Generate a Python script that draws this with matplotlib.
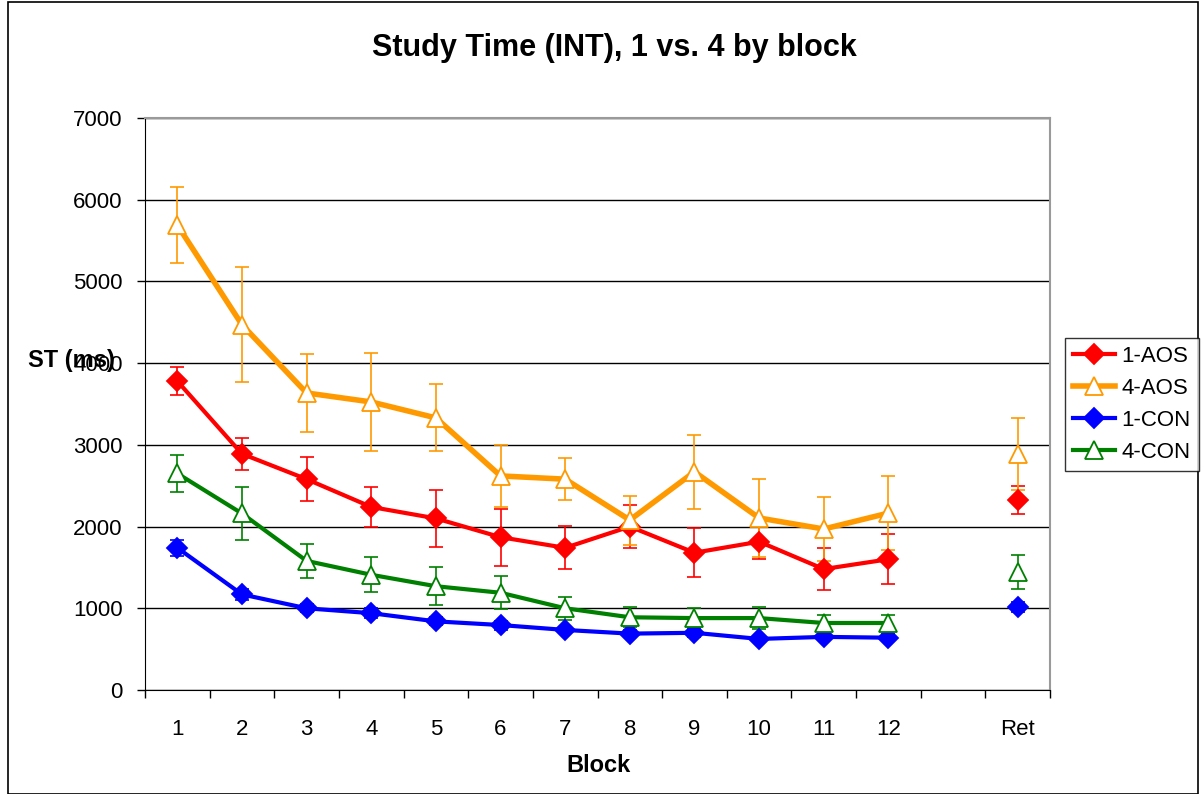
import numpy as np
import matplotlib
matplotlib.use("Agg")
import matplotlib.pyplot as plt
from matplotlib.patches import Rectangle

plt.rcParams['font.family'] = ['Liberation Sans', 'DejaVu Sans']

categories = ['1', '2', '3', '4', '5', '6', '7', '8', '9', '10', '11', '12', '', 'Ret']

aos1 = [3780, 2890, 2580, 2240, 2100, 1870, 1740, 2000, 1680, 1815, 1480, 1600, np.nan, 2325]
aos1_err = [170, 200, 270, 250, 350, 350, 265, 265, 300, 210, 255, 305, np.nan, 170]

aos4 = [5690, 4470, 3635, 3525, 3330, 2620, 2580, 2080, 2670, 2105, 1970, 2165, np.nan, 2890]
aos4_err = [460, 705, 480, 600, 410, 380, 260, 300, 450, 480, 390, 450, np.nan, 440]

con1 = [1740, 1170, 1000, 940, 840, 795, 735, 690, 700, 625, 650, 640, np.nan, 1020]
con1_err = [100, 70, 50, 60, 50, 55, 40, 40, 50, 40, 40, 40, np.nan, 60]

con4 = [2650, 2160, 1580, 1410, 1270, 1190, 1000, 890, 880, 880, 820, 820, np.nan, 1445]
con4_err = [230, 320, 210, 215, 230, 200, 140, 125, 120, 135, 100, 100, np.nan, 210]

series = [
    ('1-AOS', aos1, aos1_err, '#FF0000', 'D', 3, True),
    ('4-AOS', aos4, aos4_err, '#FF9900', '^', 4, False),
    ('1-CON', con1, con1_err, '#0000FF', 'D', 3, True),
    ('4-CON', con4, con4_err, '#008000', '^', 3, False),
]

W, H = 1201, 794
fig = plt.figure(figsize=(W / 100, H / 100), dpi=100)
fig.patch.set_facecolor('white')

# outer chart border
fig.add_artist(Rectangle((8 / W, 0.5 / H), (W - 11) / W, (H - 2) / H,
                         transform=fig.transFigure, fill=False,
                         edgecolor='black', linewidth=1.2))

L, R, T, B = 145, 1050, 118, 690
ax = fig.add_axes([L / W, 1 - B / H, (R - L) / W, (B - T) / H])

x = np.arange(1, len(categories) + 1)

handles = []
for name, vals, errs, color, marker, lw, filled in series:
    v = np.array(vals, dtype=float)
    e = np.array(errs, dtype=float)
    ax.errorbar(x, v, yerr=e, fmt='none', ecolor=color, elinewidth=1.2,
                capsize=5, capthick=1.2, zorder=3)
    ms = 10 if marker == 'D' else 13
    h, = ax.plot(x, v, color=color, linewidth=lw, marker=marker, markersize=ms,
                 markerfacecolor=color if filled else 'white',
                 markeredgecolor=color, markeredgewidth=1.3, zorder=4,
                 label=name)
    handles.append(h)

ax.set_xlim(0.5, len(categories) + 0.5)
ax.set_ylim(0, 7000)
ax.set_yticks(np.arange(0, 7001, 1000))
ax.yaxis.grid(True, color='black', linewidth=1.0, zorder=0)
ax.set_axisbelow(True)

ax.set_xticks(np.arange(0.5, len(categories) + 1, 1.0))
ax.set_xticklabels([])
ax.set_xticks(x, minor=True)
ax.set_xticklabels(categories, minor=True)
ax.tick_params(axis='x', which='major', length=6, width=1, color='black', direction='out')
ax.tick_params(axis='x', which='minor', length=0, pad=21, labelsize=16)
ax.tick_params(axis='y', length=6, width=1, direction='out', labelsize=16, pad=10)

for s in ['top', 'right']:
    ax.spines[s].set_color('#9a9a9a')
    ax.spines[s].set_linewidth(1.5)
ax.spines['left'].set_color('black')
ax.spines['bottom'].set_color('black')

fig.text(614 / W, 1 - 48 / H, 'Study Time (INT), 1 vs. 4 by block',
         ha='center', va='center', fontsize=22, fontweight='bold')
fig.text(598 / W, 1 - 765 / H, 'Block', ha='center', va='center',
         fontsize=17, fontweight='bold')
fig.text(28 / W, 1 - 360 / H, 'ST (ms)', ha='left', va='center',
         fontsize=17, fontweight='bold')

leg = fig.legend(handles=handles, loc='upper left',
                 bbox_to_anchor=(1065 / W, 1 - 338 / H),
                 frameon=True, fancybox=False, fontsize=16,
                 handlelength=1.9, handletextpad=0.3, borderpad=0.35,
                 labelspacing=0.5, borderaxespad=0)
leg.get_frame().set_edgecolor('black')
leg.get_frame().set_linewidth(1.0)

fig.savefig('out.png', dpi=100)
